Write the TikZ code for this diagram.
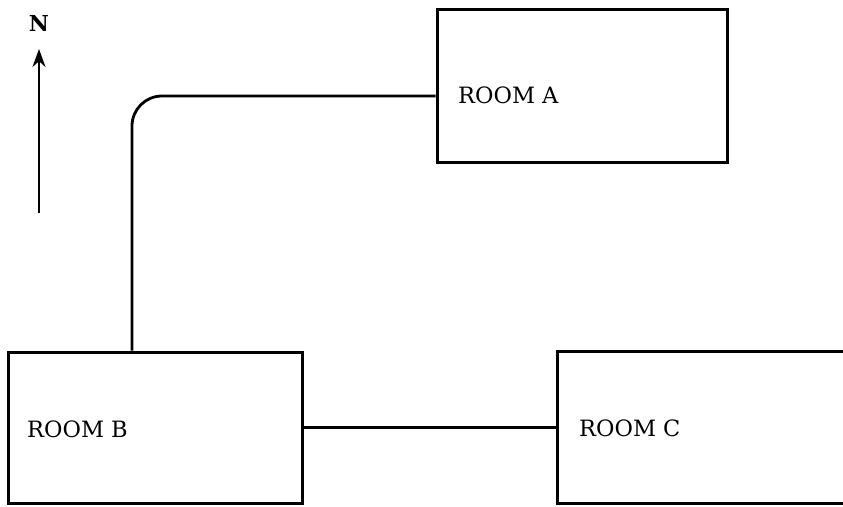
\documentclass[tikz,border=0pt]{standalone}
\usepackage{fontspec}
\setmainfont{DejaVu Serif}
\usetikzlibrary{arrows.meta}
\begin{document}
\begin{tikzpicture}[x=1pt,y=-1pt,
  roombox/.style={draw=black,line width=3pt,rectangle,inner sep=0pt},
  roomlabel/.style={anchor=west,inner sep=0pt,font=\fontsize{22.5}{26}\selectfont},
  link/.style={draw=black,line width=2.8pt}]
\useasboundingbox (0,0) rectangle (843,506);
\clip (0,0) rectangle (843,506);
% rooms
\node[roombox,minimum width=290pt,minimum height=153pt] (A) at (582,85.5) {};
\node[roombox,minimum width=294pt,minimum height=151pt] (B) at (155,427.5) {};
\node[roombox,minimum width=343pt,minimum height=152pt] (C) at (728.5,427) {};
\node[roomlabel] (Alabel) at (458,95) {ROOM A};
\node[roomlabel] (Blabel) at (27,429) {ROOM B};
\node[roomlabel] (Clabel) at (579,428) {ROOM C};
% connectors
\draw[link,rounded corners=30pt] ([yshift=-10.5pt]A.west) -| ([xshift=-23pt]B.north);
\draw[link] (B.east) -- (B.east -| C.west);
% north arrow
\node[inner sep=0pt,font=\fontsize{22}{24}\selectfont\bfseries] (N) at (39,23) {N};
\coordinate (arrowbase) at (39,213);
\coordinate (arrowtip) at (39,49);
\draw[line width=2.6pt,-{Stealth[length=18pt,width=13pt]}] (arrowbase) -- (arrowtip);
\end{tikzpicture}
\end{document}
